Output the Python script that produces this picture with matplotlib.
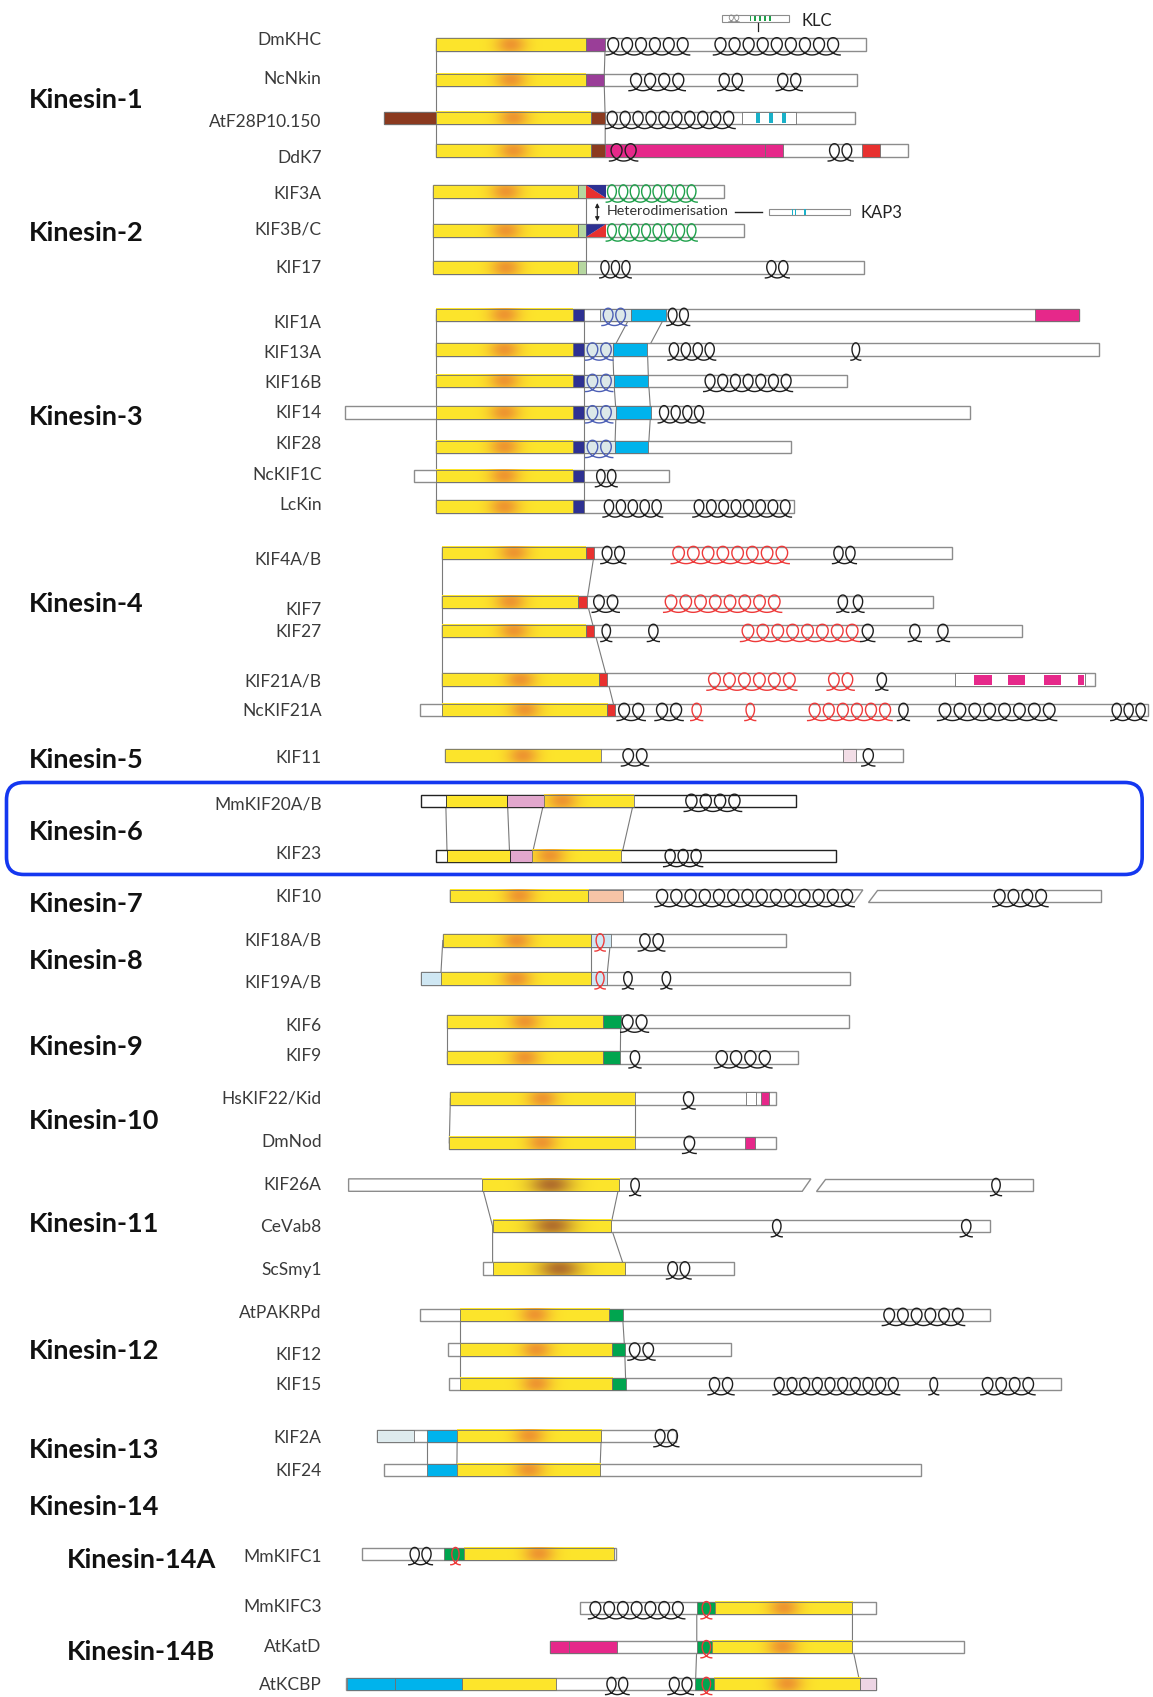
import numpy as np
import matplotlib
matplotlib.use('Agg')
import matplotlib.pyplot as plt
from matplotlib.patches import Rectangle, Polygon, FancyBboxPatch
from matplotlib.colors import to_rgb

plt.rcParams['font.family'] = ['Lato', 'DejaVu Sans']

# ---------------------------------------------------------------
# family headers
# ---------------------------------------------------------------
families = ['Kinesin-1', 'Kinesin-2', 'Kinesin-3', 'Kinesin-4', 'Kinesin-5',
            'Kinesin-6', 'Kinesin-7', 'Kinesin-8', 'Kinesin-9', 'Kinesin-10',
            'Kinesin-11', 'Kinesin-12', 'Kinesin-13', 'Kinesin-14',
            'Kinesin-14A', 'Kinesin-14B']
family_rows = [92, 215, 385, 558, 702, 769, 835, 888, 967, 1036,
               1131, 1248, 1340, 1392, 1441, 1526]
family_indent = [27] * 14 + [62, 62]

# ---------------------------------------------------------------
# proteins (aligned residue scale) and their rows
# ---------------------------------------------------------------
proteins = ['DmKHC', 'NcNkin', 'AtF28P10.150', 'DdK7',
            'KIF3A', 'KIF3B/C', 'KIF17',
            'KIF1A', 'KIF13A', 'KIF16B', 'KIF14', 'KIF28', 'NcKIF1C', 'LcKin',
            'KIF4A/B', 'KIF7', 'KIF27', 'KIF21A/B', 'NcKIF21A',
            'KIF11',
            'MmKIF20A/B', 'KIF23',
            'KIF10',
            'KIF18A/B', 'KIF19A/B',
            'KIF6', 'KIF9',
            'HsKIF22/Kid', 'DmNod',
            'KIF26A', 'CeVab8', 'ScSmy1',
            'AtPAKRPd', 'KIF12', 'KIF15',
            'KIF2A', 'KIF24',
            'MmKIFC1',
            'MmKIFC3', 'AtKatD', 'AtKCBP']

rows = [41, 74, 109, 139,
        177, 213, 247,
        291, 323, 352, 381, 413, 440, 468,
        511, 556, 583, 628, 656,
        698,
        740, 791,
        828,
        869, 904,
        944, 977,
        1015, 1056,
        1095, 1133, 1172,
        1215, 1247, 1279,
        1327, 1358,
        1436,
        1486, 1522, 1556]

# name labels do not always sit level with their bar
label_rows = [37, 73, 113, 146,
              179, 212, 248,
              298, 326, 354, 382, 410, 439, 467,
              517, 564, 584, 630, 657,
              700,
              743, 789,
              829,
              869, 908,
              948, 976,
              1015, 1055,
              1095, 1134, 1173,
              1213, 1252, 1280,
              1329, 1359,
              1439,
              1485, 1522, 1557]

spans = [(403, 800), (403, 792), (355, 790), (403, 839),
         (400, 669), (400, 687), (400, 798),
         (403, 997), (403, 1015), (403, 782), (319, 896), (403, 731), (382, 618), (403, 733),
         (408, 879), (408, 862), (408, 944), (408, 1011), (388, 1060),
         (411, 834),
         (389, 735), (403, 772),
         (416, 1017),
         (409, 726), (389, 785),
         (413, 784), (413, 737),
         (416, 717), (415, 717),
         (322, 954), (455, 914), (446, 678),
         (388, 914), (414, 675), (415, 980),
         (348, 624), (355, 851),
         (334, 569),
         (536, 809), (508, 890), (320, 809)]

# truncated (very long) sequences
breaks = {'KIF10': 789, 'KIF26A': 741}

domains = [
    # Kinesin-1
    [(403, 541, 'motor'), (541, 559, 'purple')],
    [(403, 541, 'motor'), (541, 558, 'purple')],
    [(355, 403, 'brown'), (403, 546, 'motor'), (546, 559, 'brown'), (685, 735, 'white'),
     (698, 702, 'teal_s'), (710, 714, 'teal_s'), (722, 726, 'teal_s')],
    [(403, 546, 'motor'), (546, 559, 'brown'), (559, 707, 'magenta'), (707, 723, 'magenta'),
     (796, 813, 'red')],
    # Kinesin-2
    [(400, 534, 'motor'), (534, 541.6, 'lgreen'), (541.6, 559.4, 'tri_a')],
    [(400, 534, 'motor'), (534, 541.6, 'lgreen'), (541.6, 559.4, 'tri_b')],
    [(400, 534, 'motor'), (534, 541.6, 'lgreen')],
    # Kinesin-3
    [(403, 529, 'motor'), (529, 539.5, 'navy'), (554.6, 583, 'pale'), (583, 615, 'cyan'),
     (956, 997, 'magenta')],
    [(403, 529, 'motor'), (529, 539.5, 'navy'), (539.5, 566, 'pale'), (566, 598, 'cyan')],
    [(403, 529, 'motor'), (529, 539.5, 'navy'), (539.5, 567, 'pale'), (567, 599, 'cyan')],
    [(403, 529, 'motor'), (529, 539.5, 'navy'), (539.5, 569, 'pale'), (569, 601, 'cyan')],
    [(403, 529, 'motor'), (529, 539.5, 'navy'), (539.5, 568, 'pale'), (568, 599, 'cyan')],
    [(403, 529, 'motor'), (529, 539.5, 'navy')],
    [(403, 529, 'motor'), (529, 539.5, 'navy')],
    # Kinesin-4
    [(408, 541, 'motor'), (541, 549, 'red')],
    [(408, 534, 'motor'), (534, 542, 'red')],
    [(408, 541, 'motor'), (541, 549, 'red')],
    [(408, 553, 'motor'), (553, 561, 'red'), (882, 1002, 'white'),
     (900, 916, 'magenta_s'), (931, 947, 'magenta_s'), (964, 980, 'magenta_s'),
     (995.5, 1001, 'magenta_s')],
    [(408, 561, 'motor'), (561, 568, 'red')],
    # Kinesin-5
    [(411, 555, 'motor'), (779, 791, 'blush')],
    # Kinesin-6
    [(411.7, 468.7, 'yellow'), (468.7, 502.7, 'pink'), (502.7, 585.6, 'motor_l')],
    [(413, 470.8, 'yellow'), (470.8, 491.2, 'pink'), (491.2, 574, 'motor_l')],
    # Kinesin-7
    [(416, 543.5, 'motor'), (543.5, 575.4, 'peach')],
    # Kinesin-8
    [(409, 545.6, 'motor'), (545.6, 564, 'lblue')],
    [(389, 407, 'lblue'), (407, 545.6, 'motor'), (545.6, 560.4, 'lblue')],
    # Kinesin-9
    [(413, 556.7, 'motor'), (556.7, 573.3, 'green')],
    [(413, 556.7, 'motor'), (556.7, 573, 'green')],
    # Kinesin-10
    [(416, 586.5, 'motor'), (688.7, 698.2, 'white'), (702.8, 710.5, 'magenta')],
    [(415, 586.5, 'motor'), (688, 697.3, 'magenta')],
    # Kinesin-11
    [(445, 572, 'motor_b')],
    [(455, 564, 'motor_b')],
    [(455, 577, 'motor_b')],
    # Kinesin-12
    [(424.5, 562.8, 'motor'), (562.8, 575, 'green')],
    [(424.5, 565, 'motor'), (565, 577, 'green')],
    [(424.5, 565, 'motor'), (565, 578, 'green')],
    # Kinesin-13
    [(348, 382, 'pale2'), (394.6, 422.3, 'cyan'), (422.3, 555.4, 'motor')],
    [(394.6, 422, 'cyan'), (422, 554.2, 'motor')],
    # Kinesin-14A
    [(410.4, 429, 'green'), (429, 567.3, 'motor')],
    # Kinesin-14B
    [(643.6, 660.2, 'green'), (660.2, 787.4, 'motor')],
    [(508, 525.8, 'magenta'), (525.8, 570, 'magenta'), (643.6, 657.4, 'green'),
     (657.4, 787.4, 'motor')],
    [(320.3, 365, 'cyan'), (365, 427, 'cyan'), (427, 514, 'yellow'), (642.4, 659.4, 'green'),
     (659.4, 794.5, 'motor'), (794.5, 809, 'blush2')],
]

# coiled coils: (start, end, number of turns, colour)
coils = [
    [(560, 637, 6, 'k'), (659, 776, 9, 'k')],
    [(581, 633, 4, 'k'), (663, 687, 2, 'k'), (717, 741, 2, 'k')],
    [(559.5, 679, 10, 'k')],
    [(563, 589, 2, 'k'), (765, 788, 2, 'k')],
    [(560, 644, 8, 'g')],
    [(560, 644, 8, 'g')],
    [(554, 583, 3, 'k'), (707, 729, 2, 'k')],
    [(556, 579, 2, 'b'), (616, 637, 2, 'k')],
    [(541, 566, 2, 'b'), (617, 661, 4, 'k'), (786, 795, 1, 'k')],
    [(541, 566, 2, 'b'), (650, 732, 7, 'k')],
    [(541, 566, 2, 'b'), (608, 651, 4, 'k')],
    [(541, 566, 2, 'b')],
    [(550, 570, 2, 'k')],
    [(557, 612, 5, 'k'), (640, 731, 8, 'k')],
    [(555, 578, 2, 'k'), (620, 729, 8, 'r'), (769, 791, 2, 'k')],
    [(547, 572, 2, 'k'), (613, 722, 8, 'r'), (773, 784, 1, 'k'), (787, 798, 1, 'k')],
    [(555, 565, 1, 'k'), (598, 609, 1, 'k'), (684, 794, 8, 'r'), (795, 808, 1, 'k'),
     (839, 851, 1, 'k'), (865, 877, 1, 'k')],
    [(653, 736, 6, 'r'), (764, 789, 2, 'r'), (809, 820, 1, 'k')],
    [(570, 596, 2, 'k'), (605, 631, 2, 'k'), (638, 649, 1, 'r'), (688, 698, 1, 'r'),
     (746, 824, 6, 'r'), (829, 840, 1, 'k'), (866, 976, 8, 'k'), (1026, 1059, 3, 'k')],
    [(574, 599, 2, 'k'), (796, 808, 1, 'k')],
    [(632, 685, 4, 'k')],
    [(613, 649, 3, 'k')],
    [(605, 789, 14, 'k'), (917, 968, 4, 'k')],
    [(549.6, 559, 1, 'r'), (589.6, 614, 2, 'k')],
    [(549.6, 559, 1, 'r'), (575, 585, 1, 'k'), (610.5, 620.5, 1, 'k')],
    [(573.3, 599, 2, 'k')],
    [(581, 592, 1, 'k'), (660, 713, 4, 'k')],
    [(630, 642, 1, 'k')],
    [(630.5, 643, 1, 'k')],
    [(581.6, 591.6, 1, 'k'), (915, 925, 1, 'k')],
    [(712.5, 722.5, 1, 'k'), (887, 898, 1, 'k')],
    [(615.6, 638.3, 2, 'k')],
    [(815, 891, 6, 'k')],
    [(580, 605, 2, 'k')],
    [(654, 678, 2, 'k'), (714, 831, 10, 'k'), (858, 867, 1, 'k'), (906, 956, 4, 'k')],
    [(604, 627, 2, 'k')],
    [],
    [(377.6, 399.4, 2, 'k'), (416.4, 425, 1, 'r')],
    [(543.6, 632.5, 7, 'k'), (647.5, 657.4, 1, 'r')],
    [(647.5, 657.4, 1, 'r')],
    [(559.4, 581, 2, 'k'), (617, 640.4, 2, 'k'), (647.5, 657.4, 1, 'r')],
]

# homologous boundaries joined between neighbouring sequences
connectors = [
    [('DmKHC', 403), ('NcNkin', 403), ('AtF28P10.150', 403), ('DdK7', 403)],
    [('DmKHC', 559), ('NcNkin', 558), ('AtF28P10.150', 559), ('DdK7', 559)],
    [('KIF3A', 400), ('KIF3B/C', 400), ('KIF17', 400)],
    [('KIF3A', 541.6), ('KIF3B/C', 541.6), ('KIF17', 541.6)],
    [('KIF1A', 403), ('LcKin', 403)],
    [('KIF1A', 539.5), ('LcKin', 539.5)],
    [('KIF1A', 583), ('KIF13A', 566), ('KIF16B', 567), ('KIF14', 569), ('KIF28', 568)],
    [('KIF1A', 615), ('KIF13A', 598), ('KIF16B', 599), ('KIF14', 601), ('KIF28', 599)],
    [('KIF4A/B', 408), ('NcKIF21A', 408)],
    [('KIF4A/B', 549), ('KIF7', 542), ('KIF27', 549), ('KIF21A/B', 561), ('NcKIF21A', 568)],
    [('MmKIF20A/B', 411.7), ('KIF23', 413)],
    [('MmKIF20A/B', 468.7), ('KIF23', 470.8)],
    [('MmKIF20A/B', 502.7), ('KIF23', 491.2)],
    [('MmKIF20A/B', 585.6), ('KIF23', 574)],
    [('KIF18A/B', 409), ('KIF19A/B', 407)],
    [('KIF18A/B', 545.6), ('KIF19A/B', 545.6)],
    [('KIF18A/B', 564), ('KIF19A/B', 560.4)],
    [('KIF6', 413), ('KIF9', 413)],
    [('KIF6', 573.3), ('KIF9', 573)],
    [('HsKIF22/Kid', 416), ('DmNod', 415)],
    [('HsKIF22/Kid', 586.5), ('DmNod', 586.5)],
    [('KIF26A', 445), ('CeVab8', 455), ('ScSmy1', 455)],
    [('KIF26A', 572), ('CeVab8', 564), ('ScSmy1', 577)],
    [('AtPAKRPd', 424.5), ('KIF15', 424.5)],
    [('AtPAKRPd', 575), ('KIF12', 577), ('KIF15', 578)],
    [('KIF2A', 394.6), ('KIF24', 394.6)],
    [('KIF2A', 422.3), ('KIF24', 422)],
    [('KIF2A', 555.4), ('KIF24', 554.2)],
    [('MmKIFC3', 643.6), ('AtKatD', 643.6), ('AtKCBP', 642.4)],
    [('MmKIFC3', 787.4), ('AtKatD', 787.4), ('AtKCBP', 794.5)],
]

dark_outline = ['MmKIF20A/B', 'KIF23']

palette = {
    'yellow': '#FDE52B', 'purple': '#9A3E98', 'brown': '#8B3A1F', 'magenta': '#E6288A',
    'red': '#E8312F', 'white': 'white', 'cyan': '#00B3EC', 'teal': '#1AB1C9',
    'lgreen': '#B6D7A0', 'navy': '#2E3192', 'pale': '#DCE8E9', 'peach': '#F7C4A6',
    'pink': '#E2A7CD', 'blush': '#F2DDE6', 'blush2': '#EDD5E4', 'lblue': '#CFE7F3',
    'green': '#00A54F', 'pale2': '#DEEBEE',
}
coil_colors = {'k': '#1e1e1e', 'r': '#EE3A3A', 'g': '#1DA04A', 'b': '#4C5FB5'}

H = 11.5      # bar thickness
CH = 8.0      # coil half height

fig = plt.figure(figsize=(11.53, 16.97), dpi=100)
ax = fig.add_axes([0, 0, 1, 1])


def draw_motor(x0, x1, y, core, frac=0.5, sigma=10.0):
    xs = np.linspace(x0, x1, 300)
    ys = np.linspace(-1, 1, 24)
    wx = np.exp(-0.5 * ((xs - (x0 + frac * (x1 - x0))) / sigma) ** 2)
    wy = 1 - 0.3 * ys ** 2
    w = np.outer(wy, wx)[..., None]
    img = (1 - w) * np.array(to_rgb(palette['yellow'])) + w * np.array(to_rgb(core))
    ax.imshow(img, extent=(x0, x1, y + H / 2, y - H / 2), aspect='auto',
              interpolation='bilinear', zorder=3)
    ax.add_patch(Rectangle((x0, y - H / 2), x1 - x0, H, fc='none', ec='#6f6f6f',
                           lw=0.6, zorder=3.5))


def draw_coil(x0, x1, n, y, color, hh=CH, lw=1.0, drop=1.8):
    # helix drawn as a looped trochoid: arch on top, crossing just under the bar
    pitch = (x1 - x0) / n
    a = pitch / (2 * np.pi)
    b = 3.9 * a
    th = np.linspace(-np.pi, 2 * np.pi * n - np.pi, 90 * n)
    xs = x0 + a * (th + np.pi) - b * np.sin(th)
    ys = y + drop - hh * np.cos(th)
    ax.plot(xs, ys, color=color, lw=lw, zorder=5)


def bar_polys(x0, x1, y, brk=None, h=H):
    top, bot = y - h / 2, y + h / 2
    if brk is None:
        return [[(x0, top), (x1, top), (x1, bot), (x0, bot)]]
    gap, slant = 13, 8
    return [[(x0, top), (brk + slant, top), (brk, bot), (x0, bot)],
            [(brk + gap + slant, top), (x1, top), (x1, bot), (brk + gap, bot)]]


# connector lines sit behind the bars
for chain in connectors:
    xs = [x for _, x in chain]
    ys = [rows[proteins.index(p)] for p, _ in chain]
    ax.plot(xs, ys, color='#7a7a7a', lw=0.8, zorder=1)

for i, name in enumerate(proteins):
    y = rows[i]
    x0, x1 = spans[i]
    edge = '#222222' if name in dark_outline else '#8c8c8c'
    for poly in bar_polys(x0, x1, y, breaks.get(name)):
        ax.add_patch(Polygon(poly, closed=True, fc='white', ec=edge, lw=1.0, zorder=2))

    for d0, d1, key in domains[i]:
        top = y - H / 2
        if key == 'motor':
            draw_motor(d0, d1, y, '#EE9630')
        elif key == 'motor_l':
            draw_motor(d0, d1, y, '#EE9630', frac=0.2)
        elif key == 'motor_b':
            draw_motor(d0, d1, y, '#B2702C', sigma=14)
        elif key in ('tri_a', 'tri_b'):
            bot = y + H / 2
            if key == 'tri_a':
                red = [(d0, top), (d0, bot), (d1, bot)]
                blue = [(d0, top), (d1, top), (d1, bot)]
            else:
                blue = [(d0, top), (d1, top), (d0, bot)]
                red = [(d1, top), (d1, bot), (d0, bot)]
            ax.add_patch(Polygon(red, fc=palette['red'], ec='none', zorder=3))
            ax.add_patch(Polygon(blue, fc=palette['navy'], ec='none', zorder=3))
        elif key.endswith('_s'):
            ax.add_patch(Rectangle((d0, top + 1), d1 - d0, H - 2, fc=palette[key[:-2]],
                                   ec='none', zorder=4))
        else:
            ec = '#222222' if name in dark_outline else '#6f6f6f'
            ax.add_patch(Rectangle((d0, top), d1 - d0, H, fc=palette[key], ec=ec,
                                   lw=0.6, zorder=3))

    for c0, c1, n, col in coils[i]:
        draw_coil(c0, c1, n, y, coil_colors[col])

    ax.text(297, label_rows[i], name, ha='right', va='center', fontsize=12.5,
            color='#3a3a3a')

for fam, fy, fx in zip(families, family_rows, family_indent):
    ax.text(fx, fy, fam, ha='left', va='center', fontsize=19.5, fontweight='bold',
            color='#111111')

# light chain (KLC) bound to kinesin-1
ax.add_patch(Rectangle((667, 14), 62, 6, fc='white', ec='#8c8c8c', lw=0.8, zorder=2))
draw_coil(673, 683, 2, 17, '#888888', hh=3.2, lw=0.6, drop=0)
for sx in np.linspace(693, 711, 5):
    ax.add_patch(Rectangle((sx - 0.7, 14.5), 1.4, 5, fc='#1DA04A', ec='none', zorder=3))
ax.plot([700, 700], [21, 29], color='#222222', lw=0.9, zorder=3)
ax.text(740, 19, 'KLC', ha='left', va='center', fontsize=12, color='#222222')

# KIF3 heterodimer and its cargo adaptor KAP3
ax.annotate('', xy=(551.7, 207), xytext=(551.7, 185),
            arrowprops=dict(arrowstyle='<|-|>', color='#222222', lw=0.8, mutation_scale=6),
            zorder=6)
ax.text(560, 195, 'Heterodimerisation', ha='left', va='center', fontsize=10.3,
        color='#333333')
ax.plot([679, 704], [196, 196], color='#222222', lw=1.0)
ax.add_patch(Rectangle((710, 193), 75, 6, fc='white', ec='#8c8c8c', lw=0.8, zorder=2))
for sx in (731.8, 734.9, 743.5):
    ax.add_patch(Rectangle((sx - 0.7, 193.5), 1.4, 5, fc=palette['teal'], ec='none', zorder=3))
ax.text(795, 197, 'KAP3', ha='left', va='center', fontsize=12, color='#222222')

# highlight around the kinesin-6 family
ax.add_patch(FancyBboxPatch((6, 723), 1049, 85, boxstyle='round,pad=0,rounding_size=16',
                            fc='none', ec='#1437F0', lw=2.6, zorder=6))

ax.set_xlim(0, 1065)
ax.set_ylim(1568, 0)
ax.axis('off')
fig.savefig('out.png', dpi=100, facecolor='white')
